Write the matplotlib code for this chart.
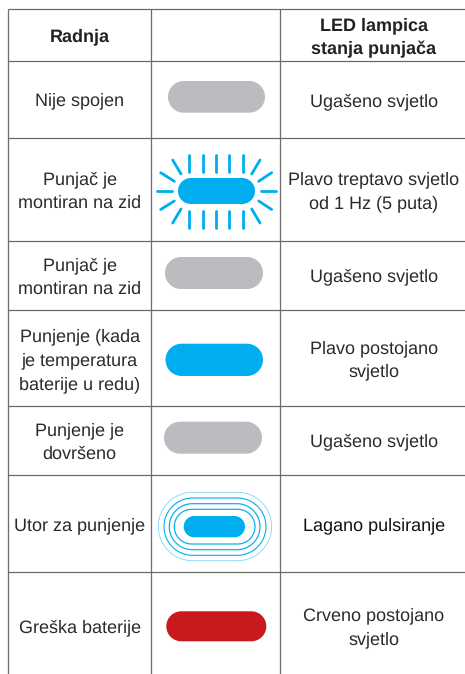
import numpy as np
import matplotlib
matplotlib.use("Agg")
import matplotlib.pyplot as plt
from matplotlib.patches import Polygon

# --- content ---
header_action = ["Radnja"]
header_status = ["LED lampica", "stanja punjača"]
actions = [
    ["Nije spojen"],
    ["Punjač je", "montiran na zid"],
    ["Punjač je", "montiran na zid"],
    ["Punjenje (kada", "je temperatura", "baterije u redu)"],
    ["Punjenje je", "dovršeno"],
    ["Utor za punjenje"],
    ["Greška baterije"],
]
statuses = [
    ["Ugašeno svjetlo"],
    ["Plavo treptavo svjetlo", "od 1 Hz (5 puta)"],
    ["Ugašeno svjetlo"],
    ["Plavo postojano", "svjetlo"],
    ["Ugašeno svjetlo"],
    ["Lagano pulsiranje"],
    ["Crveno postojano", "svjetlo"],
]
GREY, BLUE, RED = "#bbbcbf", "#00aeef", "#c8191e"
lamp_colors = [GREY, BLUE, GREY, BLUE, GREY, BLUE, RED]

# --- layout (pixels) ---
W, H = 465, 674
h_lines = [8.5, 61, 137.5, 241, 310, 405.7, 475, 571.5]
v_lines = [8, 151, 279.7]
action_base = [[105.7], [184, 207.7], [270, 293.5], [341, 365, 389], [435, 458.7], [530], [632]]
status_base = [[106], [184.3, 208.3], [281.7], [353, 376.7], [446.7], [530], [620, 644]]
pills = [(168, 81, 265, 112.7), (178, 178, 255, 204), (165, 257, 263, 289),
         (165.5, 343.7, 263, 376), (164, 421.7, 262, 453.7),
         (183.7, 516, 245, 537.3), (166.3, 611.3, 266.3, 641.3)]
rings = [((158.3, 492.3, 271.7, 560.7), 0.8, "#7fd5f5"), ((164, 498, 266, 555.3), 1.1, BLUE),
         ((169.3, 503.7, 260, 549.7), 1.2, BLUE), ((174.3, 509.3, 255, 544), 1.2, BLUE)]
rays = [((x, 154.7), (x, 171.7)) for x in (189.3, 202.7, 216, 229.3, 242.7)]
rays += [((x, 211), (x, 228)) for x in (189.3, 202.7, 216, 229.3, 242.7)]
rays += [((172.7, 160), (181, 174)), ((160.7, 172.7), (174.3, 181.3)), ((156.7, 191), (171.7, 191)),
         ((160.7, 209.5), (174.3, 201)), ((172.7, 223), (181, 209)),
         ((260, 160), (251.7, 174)), ((271.7, 172.7), (258.7, 181.3)), ((261, 191), (276, 191)),
         ((271.7, 209.5), (258.7, 201)), ((260, 223), (251.7, 209))]
cx_action, cx_status = 79.6, 373.8
FS = 13.25
TXT = "#2b2b2b"

plt.rcParams["font.family"] = ["Liberation Sans", "DejaVu Sans"]
plt.rcParams["text.hinting"] = "no_hinting"
plt.rcParams["text.hinting_factor"] = 1
fig = plt.figure(figsize=(W / 100, H / 100), dpi=100)
ax = fig.add_axes([0, 0, 1, 1])
ax.set_xlim(0, W)
ax.set_ylim(H, 0)
ax.axis("off")
PX = 0.72  # linewidth points per pixel


def pill(box, face=None, edge="none", lw=0.0, z=3):
    x0, y0, x1, y1 = box
    r = (y1 - y0) / 2
    t = np.linspace(-np.pi / 2, np.pi / 2, 40)
    xs = np.r_[x1 - r + r * np.cos(t), x0 + r - r * np.cos(t)]
    ys = np.r_[(y0 + y1) / 2 + r * np.sin(t), (y0 + y1) / 2 - r * np.sin(t)]
    ax.add_patch(Polygon(np.c_[xs, ys], closed=True, fc=face if face else "none",
                         ec=edge, lw=lw * PX, zorder=z))


for y in h_lines:
    ax.plot([8, W], [y, y], color="#666666", lw=1.2 * PX, solid_capstyle="butt", zorder=1)
for x in v_lines:
    ax.plot([x, x], [h_lines[0], H], color="#6e6e6e", lw=1.3 * PX,
            solid_capstyle="butt", zorder=1)

for color, box in zip(lamp_colors, pills):
    pill(box, face=color)
for box, lw, col in rings:
    pill(box, edge=col, lw=lw, z=2)
for (x0, y0), (x1, y1) in rays:
    ax.plot([x0, x1], [y0, y1], color=BLUE, lw=2.8 * PX, solid_capstyle="round", zorder=2)


def put(lines, bases, cx, bold=False, color=TXT):
    for s, b in zip(lines, bases):
        ax.text(cx, b, s, ha="center", va="baseline", fontsize=FS, color=color,
                fontweight="bold" if bold else "normal")


put(header_action, [41.7], cx_action, bold=True, color="#222222")
put(header_status, [30, 54], cx_status, bold=True, color="#222222")
for i, (lines, bases) in enumerate(zip(actions, action_base)):
    put(lines, bases, cx_action)
for i, (lines, bases) in enumerate(zip(statuses, status_base)):
    put(lines, bases, cx_status, color="#111111" if i == 5 else TXT)

fig.savefig("out.png", dpi=100, facecolor="white")
